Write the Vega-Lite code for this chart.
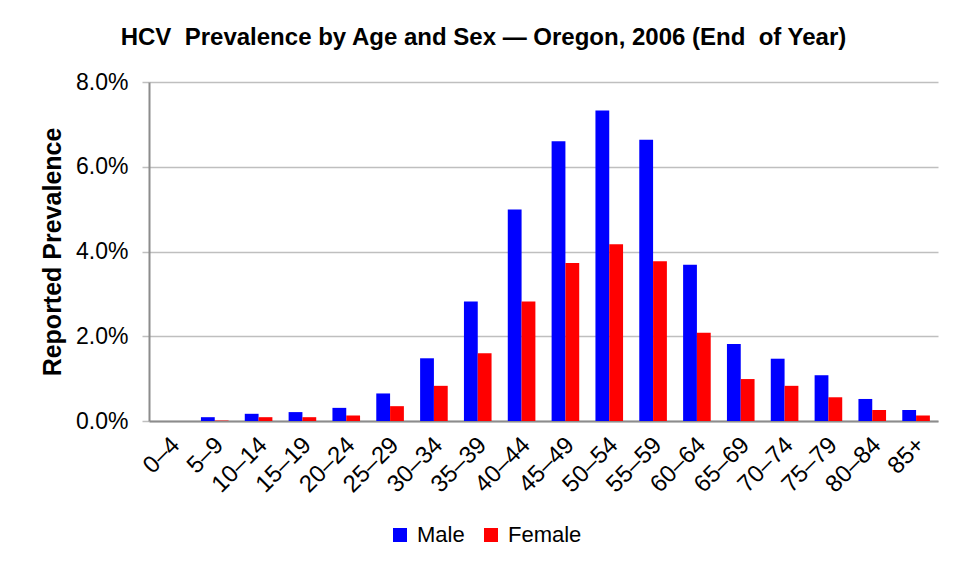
{
  "$schema": "https://vega.github.io/schema/vega-lite/v6.json",
  "width": 789,
  "height": 339,
  "autosize": {"type": "none"},
  "padding": {"left": 149, "top": 82, "right": 17, "bottom": 147},
  "background": "white",
  "title": {
    "text": "HCV\u00a0 Prevalence by Age and Sex — Oregon, 2006 (End\u00a0 of Year)",
    "anchor": "middle",
    "frame": "group",
    "dx": -60,
    "offset": 21,
    "font": "Liberation Sans",
    "fontSize": 24,
    "fontWeight": "bold",
    "color": "black"
  },
  "data": {
    "values": [
      {"age": "0–4", "sex": "Male", "value": 0.0},
      {"age": "0–4", "sex": "Female", "value": 0.0},
      {"age": "5–9", "sex": "Male", "value": 0.0009},
      {"age": "5–9", "sex": "Female", "value": 0.0001},
      {"age": "10–14", "sex": "Male", "value": 0.0017},
      {"age": "10–14", "sex": "Female", "value": 0.0009},
      {"age": "15–19", "sex": "Male", "value": 0.0021},
      {"age": "15–19", "sex": "Female", "value": 0.0009},
      {"age": "20–24", "sex": "Male", "value": 0.0031},
      {"age": "20–24", "sex": "Female", "value": 0.0013},
      {"age": "25–29", "sex": "Male", "value": 0.0065},
      {"age": "25–29", "sex": "Female", "value": 0.0035},
      {"age": "30–34", "sex": "Male", "value": 0.0148},
      {"age": "30–34", "sex": "Female", "value": 0.0083},
      {"age": "35–39", "sex": "Male", "value": 0.0282},
      {"age": "35–39", "sex": "Female", "value": 0.0160},
      {"age": "40–44", "sex": "Male", "value": 0.0499},
      {"age": "40–44", "sex": "Female", "value": 0.0282},
      {"age": "45–49", "sex": "Male", "value": 0.0660},
      {"age": "45–49", "sex": "Female", "value": 0.0373},
      {"age": "50–54", "sex": "Male", "value": 0.0733},
      {"age": "50–54", "sex": "Female", "value": 0.0417},
      {"age": "55–59", "sex": "Male", "value": 0.0664},
      {"age": "55–59", "sex": "Female", "value": 0.0377},
      {"age": "60–64", "sex": "Male", "value": 0.0369},
      {"age": "60–64", "sex": "Female", "value": 0.0208},
      {"age": "65–69", "sex": "Male", "value": 0.0182},
      {"age": "65–69", "sex": "Female", "value": 0.0099},
      {"age": "70–74", "sex": "Male", "value": 0.0147},
      {"age": "70–74", "sex": "Female", "value": 0.0083},
      {"age": "75–79", "sex": "Male", "value": 0.0108},
      {"age": "75–79", "sex": "Female", "value": 0.0056},
      {"age": "80–84", "sex": "Male", "value": 0.0052},
      {"age": "80–84", "sex": "Female", "value": 0.0026},
      {"age": "85+", "sex": "Male", "value": 0.0026},
      {"age": "85+", "sex": "Female", "value": 0.0013}
    ]
  },
  "mark": {"type": "bar"},
  "encoding": {
    "x": {
      "field": "age",
      "type": "nominal",
      "sort": null,
      "scale": {"paddingInner": 0.37, "paddingOuter": 0.185},
      "axis": {
        "title": null,
        "labelAngle": -45,
        "labelAlign": "right",
        "labelBaseline": "middle",
        "labelFont": "Liberation Sans",
        "labelFontSize": 24,
        "labelColor": "black",
        "labelPadding": 20,
        "labelOffset": 5,
        "ticks": false,
        "domainColor": "#8c8c8c",
        "domainWidth": 2,
        "grid": false
      }
    },
    "xOffset": {
      "field": "sex",
      "type": "nominal",
      "sort": ["Male", "Female"],
      "scale": {"paddingInner": 0, "paddingOuter": 0}
    },
    "y": {
      "field": "value",
      "type": "quantitative",
      "scale": {"domain": [0, 0.08], "nice": false},
      "axis": {
        "title": "Reported Prevalence",
        "titleFont": "Liberation Sans",
        "titleFontSize": 25,
        "titleFontWeight": "bold",
        "titleColor": "black",
        "titlePadding": 10,
        "values": [0, 0.02, 0.04, 0.06, 0.08],
        "format": ".1%",
        "labelFont": "Liberation Sans",
        "labelFontSize": 23,
        "labelColor": "black",
        "labelPadding": 14,
        "tickSize": 7,
        "tickColor": "#bfbfbf",
        "tickWidth": 1.5,
        "domainColor": "#8c8c8c",
        "domainWidth": 2,
        "gridColor": "#bfbfbf",
        "gridWidth": 1.5
      }
    },
    "color": {
      "field": "sex",
      "type": "nominal",
      "sort": ["Male", "Female"],
      "scale": {"domain": ["Male", "Female"], "range": ["#0000ff", "#ff0000"]},
      "legend": {
        "title": null,
        "orient": "none",
        "direction": "horizontal",
        "legendX": 240,
        "legendY": 442,
        "symbolType": "square",
        "symbolSize": 196,
        "symbolStrokeWidth": 0,
        "labelFont": "Liberation Sans",
        "labelFontSize": 22,
        "labelColor": "black",
        "labelOffset": 6,
        "columnPadding": 15
      }
    }
  },
  "config": {
    "view": {"stroke": null}
  }
}
